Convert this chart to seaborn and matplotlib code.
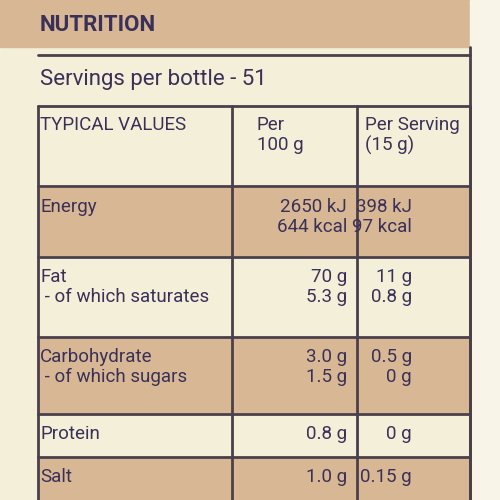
import matplotlib
matplotlib.use("Agg")
import matplotlib.pyplot as plt
from matplotlib.patches import Rectangle
import seaborn as sns

sns.set_theme(style="white")
plt.rcParams['font.family'] = ['Roboto', 'DejaVu Sans']

title = "NUTRITION"
servings = "Servings per bottle - 51"
headers = ["TYPICAL VALUES", "Per\n100 g", "Per Serving\n(15 g)"]
nutrients = ["Energy", "Fat\n - of which saturates", "Carbohydrate\n - of which sugars", "Protein", "Salt"]
per100 = ["2650 kJ\n644 kcal", "70 g\n5.3 g", "3.0 g\n1.5 g", "0.8 g", "1.0 g"]
perserv = ["398 kJ\n97 kcal", "11 g\n0.8 g", "0.5 g\n0 g", "0 g", "0.15 g"]
row_tops = [188, 258, 338, 415, 458]
row_bots = [255, 335, 412, 455, 500]

TAN = "#d8b894"; CREAM = "#f4efd9"; INK = "#3a3058"; LINE = "#4a3f4a"
FS = 13.5
fig = plt.figure(figsize=(5, 5), dpi=100)
fig.patch.set_facecolor(CREAM)
ax = fig.add_axes([0, 0, 1, 1])
ax.set_xlim(0, 500); ax.set_ylim(500, 0); ax.axis("off")

L, C1, C2, R = 38, 232, 357, 470
ax.add_patch(Rectangle((0, 0), R, 47, color=TAN))
ax.add_patch(Rectangle((R, 0), 30, 500, color="#f8f5e8"))
ax.text(L + 2, 25, title, fontsize=16, fontweight="bold", color=INK, va="center")
ax.text(L + 2, 80, servings, fontsize=16, color=INK, va="center")
for i, (t, b) in enumerate(zip(row_tops, row_bots)):
    if i % 2 == 0:
        ax.add_patch(Rectangle((L, t), R - L, b - t, color=TAN))
for y in [55, 106, 186] + [b + 2 for b in row_bots[:-1]]:
    ax.plot([L, R], [y, y], color=LINE, lw=2)
for x in [L, C1, C2, R]:
    ax.plot([x, x], [106, 500], color=LINE, lw=2)
ax.plot([R, R], [47, 500], color=LINE, lw=2)

ax.text(L + 2, 116, headers[0], fontsize=FS, color=INK, va="top")
ax.text(C1 + 25, 116, headers[1], fontsize=FS, color=INK, va="top", linespacing=1.15)
ax.text(C2 + 8, 116, headers[2], fontsize=FS, color=INK, va="top", linespacing=1.15)
for i, t in enumerate(row_tops):
    ax.text(L + 2, t + 10, nutrients[i], fontsize=FS, color=INK, va="top", linespacing=1.15)
    ax.text(C2 - 10, t + 10, per100[i], fontsize=FS, color=INK, va="top", ha="right", linespacing=1.15, multialignment="right")
    ax.text(R - 58, t + 10, perserv[i], fontsize=FS, color=INK, va="top", ha="right", linespacing=1.15, multialignment="right")

fig.savefig("out.png", dpi=100, facecolor=fig.get_facecolor())
